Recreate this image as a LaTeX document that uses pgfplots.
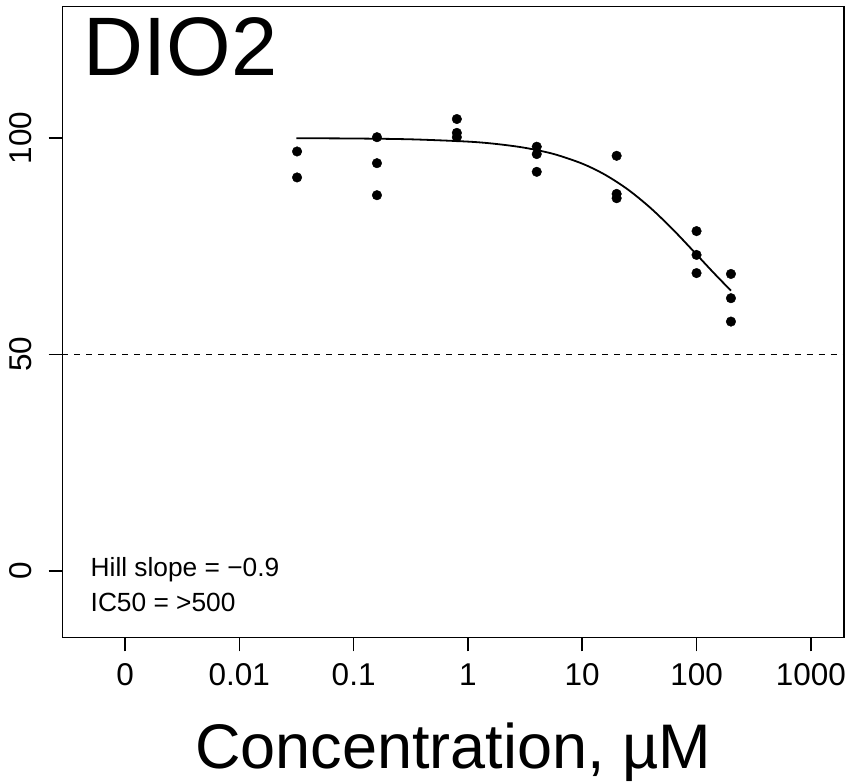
\documentclass[border=0pt]{standalone}
\usepackage{pgfplots}
\pgfplotsset{compat=1.18}
\usepackage{fontspec}
\setmainfont{Liberation Sans}
\begin{document}
\begin{tikzpicture}
\useasboundingbox (-62.5bp,-146.5bp) rectangle (787.5bp,637.5bp);
\begin{axis}[
  scale only axis,
  width=781.5bp, height=631bp,
  xmode=log,
  xmin=2.838e-4, xmax=1950,
  ymin=-15.4, ymax=130.4,
  xtick={0.001,0.01,0.1,1,10,100,1000},
  xticklabels={0,0.01,0.1,1,10,100,1000},
  ytick={0,50,100},
  yticklabels={0,50,100},
  xminorticks=false, yminorticks=false,
  xtick pos=bottom, ytick pos=left,
  tick align=outside,
  major tick length=14bp,
  axis line style={line width=1.6bp},
  every tick/.style={black, line width=1.6bp},
  /pgf/number format/assume math mode=true,
  ticklabel style={font=\fontsize{31.5bp}{36bp}\selectfont, inner sep=0pt},
  xticklabel style={anchor=north},
  yticklabel style={rotate=90, anchor=base},
  xticklabel shift=12bp,
  yticklabel shift=17bp,
  xlabel={Concentration, µM},
  xlabel style={at={(axis description cs:0.5,0)}, anchor=base, yshift=-130.5bp, inner sep=0pt, font=\fontsize{63bp}{70bp}\selectfont},
  clip=false,
]
% dashed reference line at 50
\addplot[black, line width=1.4bp, dash pattern=on 6bp off 6bp] coordinates {(2.838e-4,50) (1950,50)};
% fitted curve
\addplot[black, line width=1.8bp, smooth] coordinates {
(0.03162,99.96) (0.1,99.90) (0.3162,99.71) (1,99.18) (1.778,98.63) (3.162,97.74)
(5.623,96.32) (10,94.09) (15.85,91.52) (25.12,88.10) (39.81,83.79) (63.10,78.69)
(100,73.10) (141.3,68.85) (200,64.74)
};
% data points
\addplot[only marks, mark=*, mark size=4.8bp, black] coordinates {
(0.032,96.9) (0.032,90.9)
(0.16,100.2) (0.16,94.2) (0.16,86.8)
(0.8,104.4) (0.8,101.2) (0.8,100.2)
(4,98.0) (4,96.3) (4,92.2)
(20,95.9) (20,87.1) (20,86.1)
(100,78.5) (100,73.0) (100,68.8)
(200,68.6) (200,63.0) (200,57.6)
};
\node[anchor=base west, inner sep=0pt, font=\fontsize{83bp}{88bp}\selectfont] at (rel axis cs:0,1) [xshift=21bp, yshift=-69.5bp] {DIO2};
\node[anchor=base west, inner sep=0pt, font=\fontsize{26.3bp}{29bp}\selectfont] at (rel axis cs:0,0) [xshift=28bp, yshift=60.8bp] {Hill slope = −0.9};
\node[anchor=base west, inner sep=0pt, font=\fontsize{26.3bp}{29bp}\selectfont] at (rel axis cs:0,0) [xshift=28bp, yshift=25.8bp] {IC50 = >500};
\end{axis}
\end{tikzpicture}
\end{document}
